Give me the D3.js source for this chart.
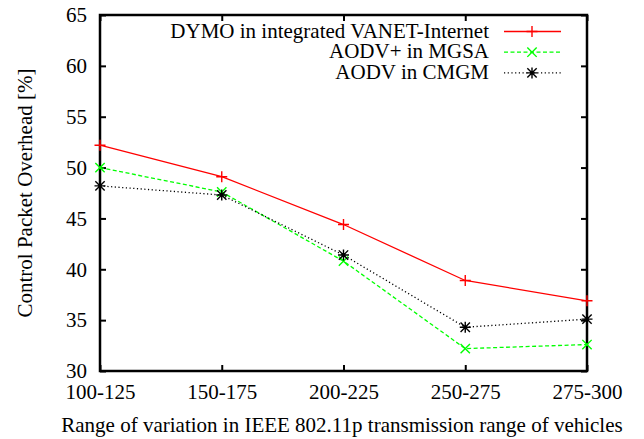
<!DOCTYPE html>
<html>
<head>
<meta charset="utf-8">
<script src="https://cdn.jsdelivr.net/npm/d3@7"></script>
</head>
<body style="margin:0">
<div class="board"></div>
<script>
(function() {

  var categories = ['100-125', '150-175', '200-225', '250-275', '275-300'];
  var dymo = [52.2, 49.1, 44.4, 38.9, 36.9];
  var aodvPlus = [50.0, 47.6, 40.8, 32.2, 32.6];
  var aodvCmgm = [48.2, 47.3, 41.4, 34.3, 35.1];
  var yTicks = [30, 35, 40, 45, 50, 55, 60, 65];

  var series = [
    { name: 'DYMO in integrated VANET-Internet', values: dymo, color: '#ff0000', dash: null, marker: 'plus' },
    { name: 'AODV+ in MGSA', values: aodvPlus, color: '#00ff00', dash: '4,2.5', marker: 'cross' },
    { name: 'AODV in CMGM', values: aodvCmgm, color: '#000000', dash: '1.2,2.5', marker: 'star' }
  ];

  var font = '"Liberation Serif", "Times New Roman", serif';
  var fontSize = '21px';
  var width = 644, height = 439;
  var left = 100, right = 587, top = 15, bottom = 371;

  var svg = d3.select('.board')
    .append('svg')
    .attr('width', width)
    .attr('height', height);

  var x = d3.scalePoint().domain(categories).range([left, right]);
  var y = d3.scaleLinear().domain([30, 65]).range([bottom, top]);

  // axes with inward ticks
  svg.append('g')
    .attr('transform', 'translate(0,' + bottom + ')')
    .call(d3.axisBottom(x).tickSize(-6).tickPadding(13))
    .call(styleAxis);
  svg.append('g')
    .attr('transform', 'translate(0,' + top + ')')
    .call(d3.axisTop(x).tickSize(-6).tickFormat(''))
    .call(styleAxis);
  svg.append('g')
    .attr('transform', 'translate(' + left + ',0)')
    .call(d3.axisLeft(y).tickValues(yTicks).tickSize(-6).tickPadding(13))
    .call(styleAxis);
  svg.append('g')
    .attr('transform', 'translate(' + right + ',0)')
    .call(d3.axisRight(y).tickValues(yTicks).tickSize(-6).tickFormat(''))
    .call(styleAxis);

  function styleAxis(g) {
    g.attr('font-family', null).attr('font-size', null);
    g.select('.domain').remove();
    g.selectAll('.tick line').attr('stroke', '#000').attr('stroke-width', 2);
    g.selectAll('.tick text')
      .style('font-family', font)
      .style('font-size', fontSize);
  }

  svg.append('rect')
    .attr('x', left).attr('y', top)
    .attr('width', right - left).attr('height', bottom - top)
    .attr('fill', 'none').attr('stroke', '#000').attr('stroke-width', 2.5);

  function drawMarker(g, type, cx, cy, color) {
    var s = 5.5;
    var p = d3.path();
    if (type === 'plus' || type === 'star') {
      p.moveTo(cx - s, cy); p.lineTo(cx + s, cy);
      p.moveTo(cx, cy - s); p.lineTo(cx, cy + s);
    }
    if (type === 'cross' || type === 'star') {
      var d = s * 0.85;
      p.moveTo(cx - d, cy - d); p.lineTo(cx + d, cy + d);
      p.moveTo(cx - d, cy + d); p.lineTo(cx + d, cy - d);
    }
    g.append('path').attr('d', p.toString())
      .attr('stroke', color).attr('stroke-width', 1.4).attr('fill', 'none');
  }

  var line = d3.line()
    .x(function(d, i) { return x(categories[i]); })
    .y(function(d) { return y(d); });

  series.forEach(function(s) {
    var g = svg.append('g');
    g.append('path')
      .attr('d', line(s.values))
      .attr('fill', 'none')
      .attr('stroke', s.color)
      .attr('stroke-width', 1.3)
      .attr('stroke-dasharray', s.dash);
    s.values.forEach(function(v, i) {
      drawMarker(g, s.marker, x(categories[i]), y(v), s.color);
    });
  });

  // legend
  var legend = svg.append('g');
  series.forEach(function(s, i) {
    var base = 37.5 + i * 20.7;
    var ly = base - 6;
    legend.append('text')
      .attr('x', 489).attr('y', base)
      .attr('text-anchor', 'end')
      .style('font-family', font)
      .style('font-size', fontSize)
      .text(s.name);
    legend.append('line')
      .attr('x1', 504).attr('x2', 561)
      .attr('y1', ly).attr('y2', ly)
      .attr('stroke', s.color).attr('stroke-width', 1.3)
      .attr('stroke-dasharray', s.dash);
    drawMarker(legend, s.marker, 532, ly, s.color);
  });

  svg.append('text')
    .attr('x', 342).attr('y', 432)
    .attr('text-anchor', 'middle')
    .style('font-family', font)
    .style('font-size', fontSize)
    .text('Range of variation in IEEE 802.11p transmission range of vehicles');

  svg.append('text')
    .attr('transform', 'translate(32,' + ((top + bottom) / 2) + ') rotate(-90)')
    .attr('text-anchor', 'middle')
    .style('font-family', font)
    .style('font-size', fontSize)
    .text('Control Packet Overhead [%]');

})();
</script>
</body>
</html>
